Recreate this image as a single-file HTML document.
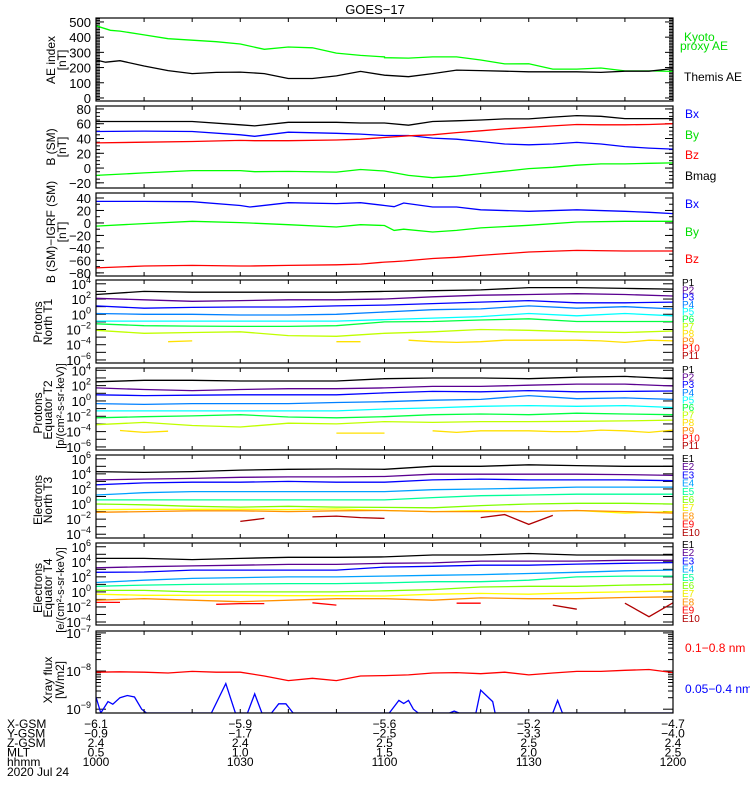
<!DOCTYPE html>
<html><head><meta charset="utf-8"><style>
html,body{margin:0;padding:0;background:#fff;}
svg{display:block;font-family:"Liberation Sans",sans-serif;}
</style></head><body>
<svg id="chart" width="750" height="800" viewBox="0 0 750 800" xmlns="http://www.w3.org/2000/svg">
<rect width="750" height="800" fill="#fff"/>
<text x="375" y="14" text-anchor="middle" font-size="13">GOES−17</text>
</svg>
<script>
// ---- time axis ----
const T13 = [0,10,20,30,40,50,60,70,80,90,100,110,120];
const T25 = [0,5,10,15,20,25,30,35,40,45,50,55,60,65,70,75,80,85,90,95,100,105,110,115,120];
const xTickTimes = [0,30,60,90,120];
const xGsm = ["−6.1","−5.9","−5.6","−5.2","−4.7"];
const yGsm = ["−0.9","−1.7","−2.5","−3.3","−4.0"];
const zGsm = ["2.4","2.4","2.5","2.5","2.4"];
const mlt = ["0.5","1.0","1.5","2.0","2.5"];
const hhmm = ["1000","1030","1100","1130","1200"];

// ---- AE panel ----
const aeKyoto = [475,445,440,415,390,380,370,355,320,335,330,295,280,270,265,262,270,270,250,224,225,190,190,197,178,178,175];
const aeKyotoT = [0,3,5,10,15,20,25,30,35,40,45,50,55,60,60,65,70,75,80,85,90,95,100,105,110,115,120];
const aeThemis = [250,235,245,210,180,160,168,170,160,128,128,145,175,150,140,160,183,180,176,172,172,172,168,176,176,193];
const aeThemisT = [0,2,5,10,15,20,25,30,35,40,45,50,55,60,65,70,75,80,85,90,95,100,105,110,115,120];

// ---- B (SM) panel ----
const bsmT = [0,10,20,30,33,40,50,55,60,65,70,75,80,85,90,95,100,105,110,115,120];
const bsmMag = [63,63,63,58.5,57,62,62,61,61,58,63,64,65,66.5,66.5,69,71,70,67,67,67];
const bsmBx = [49.5,50,49.5,45,43,48.6,47,46,44,44,40.5,39,36,32.5,31.5,32.5,34.7,32.5,29,27,25.7];
const bsmBz = [34,35,36,37.4,37,37,38,39,41.4,43.7,45,48,50.4,53,55,57,59,58.5,58.5,59,60];
const bsmBy = [-10,-6.5,-3.4,-3.4,-5,-4.5,-5.5,-2,-4,-10,-13,-11,-7.5,-4.3,-0.7,1,3.8,5.6,5.6,6.5,7];

// ---- B(SM)-IGRF panel ----
const igT = [0,10,20,30,32,40,50,55,60,62,64,70,75,80,90,100,110,115,120];
const igBx = [34.6,34.6,34,28,25.5,32.5,31,32.5,28,26,32,25.5,25.5,21,18.6,21,18.6,17,15];
const igBy = [-5,-1,2.6,0.5,0,-2.8,-6.5,-2.8,-4,-12,-10,-14.5,-12,-8,-3.8,1.5,2.6,2.6,2.6];
const igBz = [-72,-69,-68,-69,-69,-68,-67,-66,-62.7,-62,-61,-57,-55,-52,-46.6,-44,-45,-45,-45];

// ---- Protons North T1 (log10) ----
const pn1 = [2.6,3.0,2.9,2.9,2.9,2.9,3.0,3.1,3.2,3.5,3.5,3.4,3.3];
const pn2 = [2.1,1.9,1.7,1.8,1.9,1.9,2.0,2.3,2.5,2.6,2.7,2.6,2.4];
const pn3 = [1.1,0.8,0.9,0.95,0.95,1.1,1.2,1.4,1.6,1.8,1.5,1.5,1.6];
const pn4 = [0.1,0.0,0.0,-0.1,-0.1,0.0,0.3,0.6,0.7,1.1,0.8,1.0,0.7];
const pn5 = [-0.9,-0.9,-0.9,-0.9,-0.9,-0.9,-0.7,-0.5,-0.3,0.1,-0.2,0.1,-0.2];
const pn6 = [-1.25,-1.5,-1.55,-1.6,-1.6,-1.5,-1.0,-0.95,-0.75,-0.6,-0.95,-0.95,-0.95];
const pn7 = [-2.1,-2.5,-2.4,-2.3,-2.8,-2.9,-2.5,-2.3,-2.0,-2.1,-2.3,-2.4,-2.2];
const pn8 = [null,null,null,-3.6,-3.5,null,null,null,null,null,-3.6,-3.6,null,-3.4,-3.6,-3.7,-3.6,-3.4,-3.4,-3.4,-3.4,-3.5,-3.7,-3.4,-3.5];

// ---- Protons Equator T2 ----
const pe1 = [2.5,2.7,2.7,2.6,2.6,2.6,2.9,3.0,3.0,2.9,3.1,3.2,2.9];
const pe2 = [1.7,1.5,1.35,1.5,1.6,1.6,1.7,1.9,1.9,2.05,2.2,2.2,1.95];
const pe3 = [0.8,0.7,0.75,0.8,0.8,0.8,1.05,1.25,1.2,1.35,1.2,1.25,1.3];
const pe4 = [-0.35,-0.45,-0.35,-0.35,-0.35,-0.2,-0.1,0.1,0.2,0.7,0.3,0.4,0.2];
const pe5 = [-1.3,-1.3,-1.3,-1.3,-1.3,-1.3,-1.05,-0.9,-0.7,-0.6,-0.7,-0.6,-0.85];
const pe6 = [-2.2,-2.05,-1.95,-1.8,-2.1,-2.2,-2.05,-1.8,-1.7,-1.8,-1.6,-1.7,-1.8];
const pe7 = [-3.1,-2.8,-3.2,-3.4,-2.9,-3.0,-2.7,-2.8,-2.7,-2.7,-2.65,-2.6,-2.5];
const pe8 = [null,-3.85,-4.1,-3.95,null,null,null,null,null,null,-4.2,-4.2,-4.2,null,-3.9,-4.1,-3.9,-3.9,-3.9,-4.0,-4.0,-3.8,-3.9,-4.1,-3.8];

// ---- Electrons North T3 ----
const en1 = [4.3,4.2,4.3,4.5,4.6,4.65,4.6,5.0,5.0,5.2,5.1,5.0,5.0];
const en2 = [3.2,3.3,3.4,3.55,3.6,3.6,3.65,3.95,3.95,3.95,3.95,3.9,3.8];
const en3 = [2.55,2.8,2.9,2.9,3.0,2.9,2.9,3.2,3.3,3.2,3.2,3.2,3.1];
const en4 = [1.2,1.5,1.65,1.65,1.65,1.65,1.65,1.9,2.0,2.1,2.25,2.25,2.25];
const en5 = [0.55,0.55,0.55,0.55,0.55,0.55,0.55,0.85,1.1,1.2,1.3,1.3,1.3];
const en6 = [0.0,-0.1,-0.3,-0.4,-0.3,-0.4,-0.45,-0.5,-0.2,0.0,0.1,0.1,0.0];
const en7 = [-0.75,-0.7,-0.7,-0.7,-0.75,-0.65,-0.85,-1.0,-0.85,-1.0,-0.85,-1.2,-1.0];
const en8 = [-1.1,-1.0,-0.9,-0.9,-1.0,-0.9,-0.85,-1.0,-1.0,-1.0,-0.85,-1.0,-1.2];
const en10 = [null,null,null,null,null,null,-2.3,-1.9,null,-1.7,-1.6,-1.8,-1.9,null,null,null,-1.8,-1.4,-2.7,-1.5,null,null,null,null,null];

// ---- Electrons Equator T4 ----
const ee1 = [4.45,4.45,4.3,4.45,4.6,4.6,4.65,4.9,4.9,5.1,4.9,4.9,4.9];
const ee2 = [3.2,3.35,3.45,3.55,3.65,3.65,3.8,3.85,4.1,4.1,4.1,4.2,4.2];
const ee3 = [2.6,2.65,2.9,2.9,2.9,2.9,3.3,3.4,3.55,3.55,3.7,3.8,3.9];
const ee4 = [1.25,1.55,1.8,1.9,2.0,2.0,2.1,2.2,2.3,2.45,2.6,2.8,2.9];
const ee5 = [0.75,0.9,1.0,1.05,1.1,1.1,1.2,1.35,1.35,1.55,2.0,2.1,2.1];
const ee6 = [0.2,0.2,0.0,0.0,0.0,0.0,0.15,0.3,0.65,0.75,0.75,0.9,1.0];
const ee7 = [-0.3,-0.45,-0.45,-0.45,-0.5,-0.5,-0.55,-0.3,-0.2,-0.3,-0.1,0.0,0.15];
const ee8 = [-1.1,-0.9,-1.1,-1.3,-1.1,-0.9,-0.9,-1.1,-0.8,-0.9,-0.9,-0.75,-0.65];
const ee9 = [-1.4,-1.4,null,null,null,-1.65,-1.55,-1.55,null,-1.45,-1.75,null,null,null,null,-1.5,-1.5,null,null,null,null,null,null,null,null];
const ee10 = [null,null,null,null,null,null,null,null,null,null,null,null,null,null,null,null,null,null,null,-1.75,-2.3,null,-1.5,-3.3,-1.45];

// ---- X-ray ----
const xrLong = [-8.03,-8.02,-8.03,-8.05,-8.01,-8.03,-8.03,-8.13,-8.25,-8.19,-8.25,-8.13,-8.12,-8.1,-8.05,-8.04,-8.07,-8.03,-8.1,-8.05,-8.01,-8.01,-7.98,-7.96,-8.04];
const xrShortT = [0,1,2.5,3.5,5,6.5,8,9.5,10.5,24,27,29,31.5,33,34.5,36.5,38,39.5,41,61,63,64,65,66,67,73.5,74.5,75.5,79,80,82.5,83,95,96,97,120];
const xrShort = [-8.68,-9.1,-8.8,-8.87,-8.7,-8.64,-8.68,-9.0,-9.1,-9.1,-8.33,-9.1,-9.1,-8.6,-9.1,-9.1,-8.86,-8.86,-9.1,-9.1,-8.77,-8.85,-8.77,-9.0,-9.1,-9.1,-9.05,-9.1,-9.1,-8.5,-8.8,-9.1,-9.1,-8.77,-9.1,-9.1];

const PC = ["#000000","#5a0090","#0000ff","#0080ff","#00ffff","#00ff40","#c0ff00","#ffe000","#ff8000","#ff0000","#b00000"];
const EC = ["#000000","#5a0090","#0000ff","#00a0ff","#00ff99","#80ff00","#ffff00","#ff9000","#ff0000","#b00000"];

const NS = "http://www.w3.org/2000/svg";
const svg = document.getElementById('chart');
const X0 = 96, X1 = 673;
function xs(t){ return X0 + t/120*(X1-X0); }
function mk(tag, attrs, parent){
  const e = document.createElementNS(NS, tag);
  for (const k in attrs) e.setAttribute(k, attrs[k]);
  (parent||svg).appendChild(e);
  return e;
}
function panel(name, top, bot, vmin, vmax){
  const g = mk('g', {});
  
  
  const p = {g, top, bot, vmin, vmax, name};
  p.y = v => bot - (v - vmin)/(vmax - vmin)*(bot - top);
  const cp = mk('clipPath', {id: 'clip-' + name}, g);
  mk('rect', {x: X0, y: top, width: X1-X0, height: bot-top}, cp);
  return p;
}
function frame(p){
  const r = mk('rect', {x: X0, y: p.top, width: X1-X0, height: p.bot-p.top, fill: 'none', stroke: '#000', 'stroke-width': 1.2}, p.g);
  
  
  for (let t = 0; t <= 120; t += 10){
    const len = 4;
    mk('line', {x1: xs(t), x2: xs(t), y1: p.bot, y2: p.bot - len, stroke: '#000'}, p.g);
    mk('line', {x1: xs(t), x2: xs(t), y1: p.top, y2: p.top + len, stroke: '#000'}, p.g);
  }
}
function ytick(p, v, len){
  const y = p.y(v);
  mk('line', {x1: X0, x2: X0 + len, y1: y, y2: y, stroke: '#000'}, p.g);
  mk('line', {x1: X1, x2: X1 - len, y1: y, y2: y, stroke: '#000'}, p.g);
}
function ylabel(p, v, txt){
  const t = mk('text', {x: 91, y: p.y(v) + 5, 'text-anchor': 'end', 'font-size': 13}, p.g);
  t.textContent = txt;
  
  
}
function ylog(p, e){
  const t = mk('text', {x: 91, y: p.y(e) + 5, 'text-anchor': 'end', 'font-size': 13}, p.g);
  
  
  const a = mk('tspan', {}, t); a.textContent = '10';
  const b = mk('tspan', {dy: -6, 'font-size': 9}, t); b.textContent = (e < 0 ? '−' + (-e) : '' + e);
}
function series(p, times, vals, color, name){
  const pl = mk('g', {'clip-path': 'url(#clip-' + p.name + ')'}, p.g);
  
  
  let pts = [];
  const flush = () => {
    if (pts.length > 1) mk('polyline', {points: pts.join(' '), fill: 'none', stroke: color, 'stroke-width': 1.3}, pl);
    pts = [];
  };
  for (let i = 0; i < times.length; i++){
    if (vals[i] === null || vals[i] === undefined){ flush(); continue; }
    pts.push(xs(times[i]).toFixed(1) + ',' + p.y(vals[i]).toFixed(1));
  }
  flush();
}
function rtext(lines, cy, size){
  lines.forEach(([x, txt, c, s]) => {
    const t = mk('text', {transform: 'translate(' + x + ',' + (c || cy) + ') rotate(-90)', 'text-anchor': 'middle', 'font-size': s || size || 12});
    t.textContent = txt;
    
    
  });
}
function rlabel(x, y, txt, color, size){
  const t = mk('text', {x, y, fill: color, 'font-size': size || 12});
  t.textContent = txt;
  
  
}

// Panel 1: AE
const p1 = panel('ae-panel', 18, 101, -20, 526);
for (let v = -20; v <= 520; v += 10) ytick(p1, v, 4);
for (let v = 0; v <= 500; v += 100){ ytick(p1, v, 8); ylabel(p1, v, '' + v); }
series(p1, aeKyotoT, aeKyoto, '#00ff00', 'kyoto-ae-line');
series(p1, aeThemisT, aeThemis, '#000000', 'themis-ae-line');
frame(p1);
rtext([[55, 'AE index'], [66, '[nT]']], 60);
rlabel(684, 41, 'Kyoto', '#00dd00'); rlabel(680, 50, 'proxy AE', '#00dd00');
rlabel(684, 81, 'Themis AE', '#000');

// Panel 2: B SM
const p2 = panel('bsm-panel', 106, 188, -27, 84);
for (let v = -20; v <= 80; v += 5) ytick(p2, v, 4);
for (let v = -20; v <= 80; v += 20){ ytick(p2, v, 8); ylabel(p2, v, (v < 0 ? '−' + (-v) : '' + v)); }
series(p2, bsmT, bsmMag, '#000', 'bmag-line');
series(p2, bsmT, bsmBx, '#0000ff', 'bx-line');
series(p2, bsmT, bsmBz, '#ff0000', 'bz-line');
series(p2, bsmT, bsmBy, '#00ff00', 'by-line');
frame(p2);
rtext([[55, 'B (SM)'], [66, '[nT]']], 147);
rlabel(685, 118, 'Bx', '#0000ff'); rlabel(685, 139, 'By', '#00dd00'); rlabel(685, 159, 'Bz', '#ff0000'); rlabel(685, 180, 'Bmag', '#000');

// Panel 3: B-IGRF
const p3 = panel('igrf-panel', 193, 276, -85, 48);
for (let v = -80; v <= 40; v += 10) ytick(p3, v, 4);
for (let v = -80; v <= 40; v += 20){ ytick(p3, v, 8); ylabel(p3, v, (v < 0 ? '−' + (-v) : '' + v)); }
series(p3, igT, igBx, '#0000ff', 'igrf-bx-line');
series(p3, igT, igBy, '#00ff00', 'igrf-by-line');
series(p3, igT, igBz, '#ff0000', 'igrf-bz-line');
frame(p3);
rtext([[55, 'B (SM)−IGRF (SM)'], [66, '[nT]']], 232);
rlabel(685, 208, 'Bx', '#0000ff'); rlabel(685, 236, 'By', '#00dd00'); rlabel(685, 263, 'Bz', '#ff0000');

function logPanel(name, top, bot, vmin, vmax, e0, e1, labels, sets, colors, t13, leg, legY, legStep){
  const p = panel(name, top, bot, vmin, vmax);
  for (let e = e0; e <= e1; e++) ytick(p, e, 10);
  labels.forEach(e => ylog(p, e));
  sets.forEach((s, i) => { if (s) series(p, s.length === 13 ? T13 : T25, s, colors[i], name + '-' + leg[i].toLowerCase()); });
  frame(p);
  leg.forEach((l, i) => rlabel(682, legY + i * legStep, l, colors[i] === '#ffff00' ? '#eeee00' : colors[i], 10));
  return p;
}
const PL = ['P1','P2','P3','P4','P5','P6','P7','P8','P9','P10','P11'];
const EL = ['E1','E2','E3','E4','E5','E6','E7','E8','E9','E10'];
logPanel('protons-north-panel', 280, 363, -6.4, 4.5, -6, 4, [4,2,0,-2,-4,-6], [pn1,pn2,pn3,pn4,pn5,pn6,pn7,pn8], PC, true, PL, 286, 7.3);
logPanel('protons-equator-panel', 368, 450, -6.4, 4.3, -6, 4, [4,2,0,-2,-4,-6], [pe1,pe2,pe3,pe4,pe5,pe6,pe7,pe8], PC, true, PL, 373, 7.6);
logPanel('electrons-north-panel', 455, 538, -4.5, 6.5, -4, 6, [6,4,2,0,-2,-4], [en1,en2,en3,en4,en5,en6,en7,en8,null,en10], EC, true, EL, 462, 8.2);
logPanel('electrons-equator-panel', 543, 625, -4.4, 6.5, -4, 6, [6,4,2,0,-2,-4], [ee1,ee2,ee3,ee4,ee5,ee6,ee7,ee8,ee9,ee10], EC, true, EL, 548, 8.2);
rtext([[42, 'Protons'], [52, 'North T1']], 322);
rtext([[42, 'Protons', 413], [52, 'Equator T2', 410], [64, '[p/(cm²-s-sr-keV)]', 406, 11]], 410);
rtext([[42, 'Electrons'], [52, 'North T3']], 500);
rtext([[42, 'Electrons', 588], [52, 'Equator T4', 588], [64, '[e/(cm²-s-sr-keV)]', 590, 11]], 588);

// Panel 8: X-ray
const p8 = panel('xray-panel', 631, 713, -9.1, -6.95);
[-7,-8,-9].forEach(e => { ytick(p8, e, 10); ylog(p8, e); });
[-9,-8].forEach(d => { for (let m = 2; m <= 9; m++) ytick(p8, d + Math.log10(m), 5); });
series(p8, T25, xrLong, '#ff0000', 'xray-long-line');
series(p8, xrShortT, xrShort, '#0000ff', 'xray-short-line');
frame(p8);
rtext([[52, 'Xray flux', 680], [64, '[W/m2]', 680]], 680);
rlabel(685, 652, '0.1−0.8 nm', '#ff0000', 12);
rlabel(685, 693, '0.05−0.4 nm', '#0000ff', 12);

// Bottom annotation
const rows = [['X-GSM', xGsm], ['Y-GSM', yGsm], ['Z-GSM', zGsm], ['MLT', mlt], ['hhmm', hhmm]];
rows.forEach(([lab, vals], r) => {
  const y = 728 + r * 9.5;
  const t = mk('text', {x: 7, y, 'font-size': 12});
  t.textContent = lab;
  
  
  vals.forEach((v, i) => {
    const tv = mk('text', {x: xs(xTickTimes[i]), y, 'text-anchor': 'middle', 'font-size': 12});
    tv.textContent = v;
    
    
  });
});
const dt = mk('text', {x: 7, y: 776, 'font-size': 12});
dt.textContent = '2020 Jul 24';


</script>
</body></html>
